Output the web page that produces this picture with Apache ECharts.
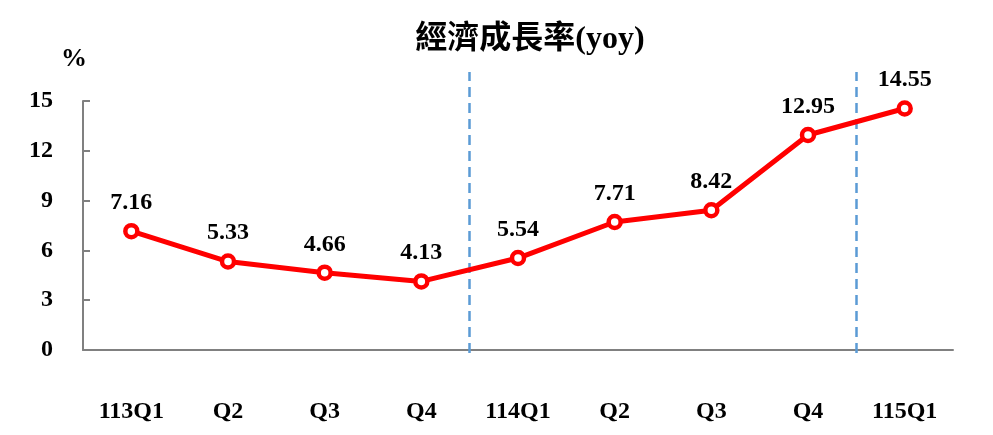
<!DOCTYPE html>
<html>
<head>
<meta charset="utf-8">
<script src="https://cdn.jsdelivr.net/npm/echarts@6/dist/echarts.min.js"></script>
<style>
  html, body { margin: 0; padding: 0; background: #fff; }
  #mainChart { width: 993px; height: 435px; }
</style>
</head>
<body>
<div id="mainChart"></div>
<script>
// 季別
var quarters = ['113Q1', 'Q2', 'Q3', 'Q4', '114Q1', 'Q2', 'Q3', 'Q4', '115Q1']
// 經濟成長率 yoy (%)
var growth = [7.16, 5.33, 4.66, 4.13, 5.54, 7.71, 8.42, 12.95, 14.55]
// y軸刻度
var yTicks = [0, 3, 6, 9, 12, 15]
// 年度分隔線 (類別邊界)
var yearBreaks = [4, 8]

var serif = "'Liberation Serif', 'Times New Roman', 'Noto Sans CJK TC', serif"

var mainChart = echarts.init(document.getElementById('mainChart'))
mainChart.setOption({
  backgroundColor: '#fff',
  animation: false,
  title: {
    text: '經濟成長率(yoy)',
    left: 525,
    top: 19,
    textAlign: 'center',
    textStyle: {
      fontFamily: serif,
      fontWeight: 'bold',
      fontSize: 32,
      color: '#000'
    }
  },
  graphic: [{
    type: 'text',
    left: 61,
    top: 46,
    style: {
      text: '%',
      font: 'bold 26px ' + serif,
      fill: '#000'
    }
  }],
  grid: [
    { left: 83, right: 40, top: 101, bottom: 85 },
    // 虛線分隔用
    { left: 83, right: 40, top: 72, bottom: 82 }
  ],
  xAxis: [
    {
      type: 'category',
      gridIndex: 0,
      data: quarters,
      boundaryGap: true,
      axisLine: { lineStyle: { color: '#808080', width: 2 } },
      axisTick: { inside: true, length: 6, lineStyle: { color: '#808080', width: 2 } },
      axisLabel: {
        margin: 50,
        fontFamily: serif,
        fontWeight: 'bold',
        fontSize: 24,
        color: '#000'
      },
      splitLine: { show: false }
    },
    {
      type: 'value',
      gridIndex: 1,
      min: 0,
      max: quarters.length,
      show: false,
      splitLine: { show: false }
    }
  ],
  yAxis: [
    {
      type: 'value',
      gridIndex: 0,
      min: yTicks[0],
      max: yTicks[yTicks.length - 1],
      interval: 3,
      axisLine: { show: true, lineStyle: { color: '#808080', width: 2 } },
      axisTick: { show: true, inside: true, length: 7, lineStyle: { color: '#808080', width: 2 } },
      axisLabel: {
        margin: 30,
        fontFamily: serif,
        fontWeight: 'bold',
        fontSize: 24,
        color: '#000'
      },
      splitLine: { show: false }
    },
    {
      type: 'value',
      gridIndex: 1,
      min: 0,
      max: 1,
      show: false,
      splitLine: { show: false }
    }
  ],
  series: [
    {
      name: '經濟成長率',
      type: 'line',
      xAxisIndex: 0,
      yAxisIndex: 0,
      data: growth,
      symbol: 'circle',
      symbolSize: 12,
      itemStyle: {
        color: '#fff',
        borderColor: '#FF0000',
        borderWidth: 4.5
      },
      lineStyle: { color: '#FF0000', width: 5 },
      label: {
        show: true,
        position: 'top',
        distance: 8,
        fontFamily: serif,
        fontWeight: 'bold',
        fontSize: 24,
        color: '#000',
        formatter: function (p) {
          return p.value.toFixed(2)
        }
      },
      z: 5
    },
    {
      type: 'line',
      xAxisIndex: 1,
      yAxisIndex: 1,
      data: [],
      silent: true,
      markLine: {
        silent: true,
        symbol: 'none',
        label: { show: false },
        lineStyle: { color: '#5B9BD5', width: 2.5, type: [10, 6] },
        data: yearBreaks.map(function (b) { return { xAxis: b } })
      }
    }
  ]
})
</script>
</body>
</html>
